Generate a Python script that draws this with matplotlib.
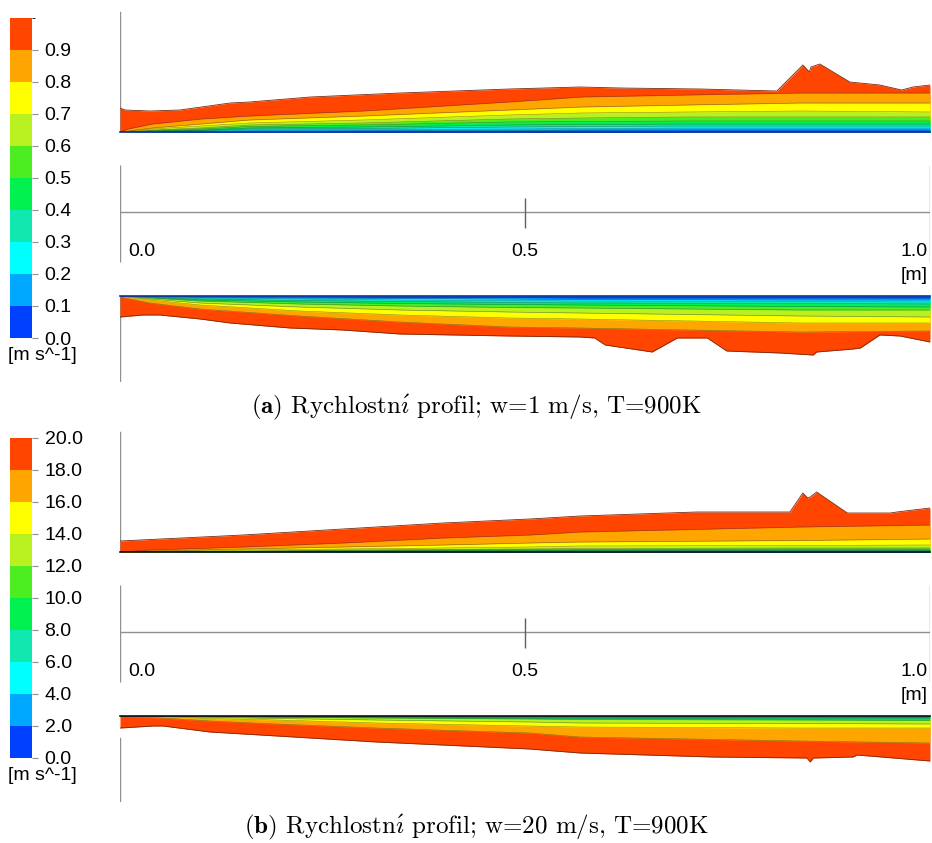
import numpy as np
import matplotlib
matplotlib.use('Agg')
import matplotlib as mpl
import matplotlib.pyplot as plt
from matplotlib.colors import ListedColormap, BoundaryNorm

plt.rcParams['font.family'] = ['Liberation Sans', 'DejaVu Sans']
plt.rcParams['mathtext.fontset'] = 'cm'

W, H = 932, 843

# CFD-Post style rainbow, one colour per band (slowest -> fastest)
band_colors = ['#0040ff', '#00a8ff', '#00ffff', '#10e8b0', '#00f050',
               '#4cee22', '#b8f020', '#ffff00', '#ffa500', '#ff4500']

# colour bar levels and labels
levels_a = [0.0, 0.1, 0.2, 0.3, 0.4, 0.5, 0.6, 0.7, 0.8, 0.9, 1.0]
ticks_a = [0.0, 0.1, 0.2, 0.3, 0.4, 0.5, 0.6, 0.7, 0.8, 0.9]
ticklabels_a = ['0.0', '0.1', '0.2', '0.3', '0.4', '0.5', '0.6', '0.7', '0.8', '0.9']
levels_b = [0.0, 2.0, 4.0, 6.0, 8.0, 10.0, 12.0, 14.0, 16.0, 18.0, 20.0]
ticklabels_b = ['0.0', '2.0', '4.0', '6.0', '8.0', '10.0', '12.0', '14.0', '16.0', '18.0', '20.0']

# scale bar [m]
scale_ticks = [0.0, 0.5, 1.0]
scale_labels = ['0.0', '0.5', '1.0']

# ---- (a) w = 1 m/s : upper side of the plate ----
# distance of the contour lines from the wall (screen units), lines 0.1 ... 0.9
xa_top = [0.0, 0.01, 0.04, 0.1, 0.16, 0.3, 0.48, 0.57, 0.7, 0.84, 1.0]
la_top = [
    [0, 0, 0.2, 0.5, 1, 1.2, 1.5, 1.8, 2, 2, 2],
    [0, 0, 0.4, 1, 2, 2.5, 3, 3.5, 4, 4, 4],
    [0, 0, 0.7, 1.5, 3, 3.5, 5, 5.5, 6, 6, 6],
    [0, 0, 1, 2, 4, 5, 7, 7.5, 8, 8, 8],
    [0, 0, 1.5, 3, 5.5, 7, 10, 10.5, 11, 11, 11],
    [0, 0, 2, 4, 7, 9, 13, 14, 15, 15, 15],
    [0, 0.5, 3, 6, 9, 12, 17, 19, 20, 21, 20],
    [0, 1, 4, 8, 12, 16, 22, 25, 27, 29, 29],
    [0, 3, 8, 13, 16, 21, 30, 35, 37, 39, 39],
]
xa_top_edge = [0.0, 0.006, 0.037, 0.074, 0.136, 0.16, 0.235, 0.346, 0.481, 0.568, 0.617,
               0.716, 0.811, 0.843, 0.851, 0.853, 0.864, 0.901, 0.938, 0.965, 0.979, 1.0]
da_top_edge = [24, 22, 21, 22, 29, 30, 35, 39, 43, 45, 44,
               43, 41, 67, 60, 65, 68, 50, 47, 42, 45, 47]

# ---- (a) lower side of the plate ----
xa_bot = [0.0, 0.006, 0.037, 0.099, 0.222, 0.346, 0.481, 0.568, 0.84, 1.0]
la_bot = [
    [0, 0, 0.2, 0.7, 1, 1.5, 1.5, 2, 2, 2],
    [0, 0, 0.4, 1.3, 2, 2.5, 3, 3.5, 4, 4],
    [0, 0, 0.7, 2, 3, 4, 4.5, 5, 5.5, 6],
    [0, 0, 1, 3, 4.5, 5.5, 6.5, 7, 7.5, 8],
    [0, 0, 1.5, 4, 6, 7.5, 8.5, 9, 10.5, 11],
    [0, 0, 2, 5, 8, 10, 11.5, 12, 14, 14],
    [0, 0.5, 3, 7, 11, 14, 16, 17, 20, 21],
    [0, 1, 4, 9, 15, 19, 22, 23, 27, 27],
    [0, 2, 7, 13, 20, 26, 31, 32, 36, 35],
]
xa_bot_edge = [0.0, 0.028, 0.049, 0.099, 0.136, 0.21, 0.275, 0.346, 0.481, 0.568, 0.586,
               0.599, 0.657, 0.688, 0.725, 0.749, 0.815, 0.856, 0.86, 0.905, 0.914, 0.938, 0.963, 1.0]
da_bot_edge = [21, 19, 19, 23, 27, 32, 34, 38, 40, 41, 42,
               49, 56, 42, 42, 55, 57, 59, 56, 53, 52, 39, 40, 46]

# ---- (b) w = 20 m/s : upper side ----
xb_top = [0.0, 0.037, 0.152, 0.275, 0.399, 0.506, 0.568, 0.84, 1.0]
lb_top = [
    [0, 0, 0.1, 0.3, 0.3, 0.4, 0.4, 0.5, 0.5],
    [0, 0, 0.2, 0.5, 0.6, 0.7, 0.8, 0.9, 1],
    [0, 0.1, 0.3, 0.7, 1, 1.1, 1.2, 1.4, 1.5],
    [0, 0.1, 0.5, 1, 1.4, 1.6, 1.8, 2, 2],
    [0, 0.2, 0.7, 1.5, 2, 2.3, 2.5, 3, 3],
    [0, 0.3, 1, 2, 2.5, 3, 3.5, 4, 4],
    [0, 0.5, 2, 3, 4, 5, 6, 6.5, 7],
    [0, 1, 3, 5, 7, 9, 10, 11.5, 13],
    [0, 2, 5, 9, 14, 17, 20, 25, 27],
]
xb_top_edge = [0.0, 0.152, 0.275, 0.399, 0.506, 0.568, 0.712, 0.786, 0.827, 0.843,
               0.849, 0.852, 0.86, 0.898, 0.951, 0.959, 1.0]
db_top_edge = [11, 17, 23, 29, 33, 36, 40, 40, 40, 59,
               54, 55, 60, 39, 39, 40, 44]

# ---- (b) lower side ----
xb_bot = [0.0, 0.053, 0.111, 0.194, 0.317, 0.506, 0.568, 0.84, 1.0]
lb_bot = [
    [0, 0, 0.1, 0.2, 0.3, 0.4, 0.4, 0.5, 0.5],
    [0, 0, 0.1, 0.3, 0.5, 0.7, 0.8, 0.9, 1],
    [0, 0.1, 0.2, 0.5, 0.7, 1.1, 1.2, 1.4, 1.5],
    [0, 0.1, 0.3, 0.7, 1, 1.6, 1.8, 2, 2],
    [0, 0.2, 0.5, 1, 1.5, 2.2, 2.5, 3, 3],
    [0, 0.3, 0.8, 1.3, 2, 3, 3.5, 4, 4.5],
    [0, 0.5, 1.5, 2.5, 4, 6, 7, 7.5, 8],
    [0, 1, 2.5, 4, 7, 10, 11, 12, 12],
    [0, 2, 5, 8, 12, 17, 21, 25, 27],
]
xb_bot_edge = [0.0, 0.041, 0.053, 0.111, 0.194, 0.317, 0.506, 0.568, 0.732, 0.848,
               0.852, 0.856, 0.905, 0.91, 1.0]
db_bot_edge = [12, 10, 10, 16, 20, 26, 33, 37, 41, 42,
               46, 42, 41, 39, 45]


fig = plt.figure(figsize=(W / 100, H / 100), dpi=100)


def add_px_axes(left, top, width, height):
    return fig.add_axes([left / W, 1 - (top + height) / H, width / W, height / H])


def draw_side(ax, x_lines, lines, x_edge, d_edge, sign, wall_color):
    ax.set_xlim(0, 1)
    ax.axis('off')
    d_edge = sign * np.array(d_edge, dtype=float)
    ax.fill_between(x_edge, 0, d_edge, color=band_colors[-1], lw=0)
    ax.plot(x_edge, d_edge, color='#7a2a10', lw=0.6)
    for i in range(len(lines) - 1, -1, -1):
        d = sign * np.array(lines[i], dtype=float)
        ax.fill_between(x_lines, 0, d, color=band_colors[i], lw=0)
        ax.plot(x_lines, d, color='#3a3a3a', lw=0.4, alpha=0.6)
    ax.axhline(0, color=wall_color, lw=1.2, clip_on=False)


def draw_panel(top_px, x_lines_t, lines_t, xe_t, de_t, x_lines_b, lines_b, xe_b, de_b,
               levels, ticks, ticklabels, caption, wall_color, bot_line_start):
    # upper side of the plate
    ax_t = add_px_axes(120, top_px, 810, 132)
    draw_side(ax_t, x_lines_t, lines_t, xe_t, de_t, 1, wall_color)
    ax_t.set_ylim(0, 132)
    ax_t.axvline(scale_ticks[0], ymin=0, ymax=120 / 132, color='#909090', lw=1, zorder=0)

    # scale bar
    ax_s = add_px_axes(120, top_px + 160, 810, 130)
    ax_s.set_xlim(0, 1)
    ax_s.set_ylim(130, 0)
    ax_s.axis('off')
    ax_s.hlines(52, scale_ticks[0], scale_ticks[-1], color='#909090', lw=1)
    ax_s.vlines([scale_ticks[0], scale_ticks[-1]], 5, 102, color='#909090', lw=1)
    ax_s.vlines(scale_ticks[1], 38, 68, color='#606060', lw=1)
    ax_s.text(scale_ticks[0] + 0.01, 92, scale_labels[0], fontsize=14, ha='left', va='center')
    ax_s.text(scale_ticks[1], 92, scale_labels[1], fontsize=14, ha='center', va='center')
    ax_s.text(scale_ticks[2] - 0.003, 92, scale_labels[2], fontsize=14, ha='right', va='center')
    ax_s.text(scale_ticks[2] - 0.003, 116, '[m]', fontsize=14, ha='right', va='center')

    # lower side of the plate
    ax_b = add_px_axes(120, top_px + 296, 810, 86)
    draw_side(ax_b, x_lines_b, lines_b, xe_b, de_b, -1, wall_color)
    ax_b.set_ylim(-86, 0)
    ax_b.axvline(scale_ticks[0], ymin=0, ymax=bot_line_start, color='#909090', lw=1, zorder=0)

    # colour bar
    cax = add_px_axes(10, top_px + 18, 22, 320)
    cmap = ListedColormap(band_colors)
    norm = BoundaryNorm(levels, cmap.N)
    cb = mpl.colorbar.ColorbarBase(cax, cmap=cmap, norm=norm, boundaries=levels,
                                   ticks=ticks, orientation='vertical')
    cb.outline.set_visible(False)
    cb.set_ticklabels(ticklabels)
    cax.tick_params(length=4, width=0.8, color='#909090', pad=5, labelsize=14)
    fig.text(8 / W, 1 - (top_px + 356) / H, '[m s^-1]', fontsize=14, ha='left', va='center')

    fig.text(476 / W, 1 - (top_px + 407) / H, caption, fontsize=18, ha='center', va='center',
             family=['cmr10', 'DejaVu Serif'])


draw_panel(0, xa_top, la_top, xa_top_edge, da_top_edge,
           xa_bot, la_bot, xa_bot_edge, da_bot_edge,
           levels_a, ticks_a, ticklabels_a,
           r'$\mathbf{(a)}$ Rychlostn$\mathrm{\acute{\imath}}$ profil; w=1 m/s, T=900K', '#1030a0', 1.0)
draw_panel(420, xb_top, lb_top, xb_top_edge, db_top_edge,
           xb_bot, lb_bot, xb_bot_edge, db_bot_edge,
           levels_b, levels_b, ticklabels_b,
           r'$\mathbf{(b)}$ Rychlostn$\mathrm{\acute{\imath}}$ profil; w=20 m/s, T=900K', '#101010', 64 / 86)

fig.savefig('out.png', dpi=100)
